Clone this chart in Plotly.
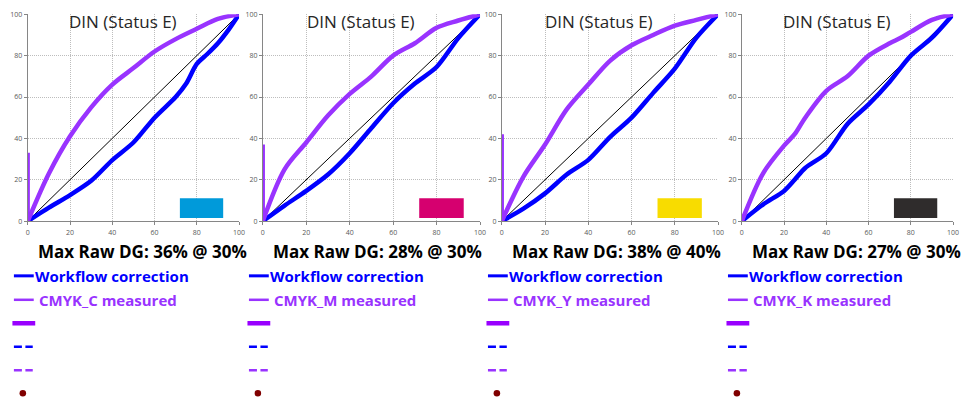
import plotly.graph_objects as go

# ---------------- data ----------------
x_pts = [0, 10, 20, 30, 40, 50, 60, 70, 80, 90, 100]

panels = ["C", "M", "Y", "K"]
patch_colors = ["#009ADA", "#D6006F", "#F8DC00", "#2F2C2C"]
max_dg_labels = ["Max Raw DG: 36% @ 30%", "Max Raw DG: 28% @ 30%",
                 "Max Raw DG: 38% @ 40%", "Max Raw DG: 27% @ 30%"]
measured_names = ["CMYK_C measured", "CMYK_M measured", "CMYK_Y measured", "CMYK_K measured"]

measured_C = [0, 23, 41, 55, 66, 74, 82, 88, 93, 97.8, 100]
measured_M = [0, 25, 38, 51, 61.5, 70, 80, 86, 93.5, 97, 100]
measured_Y = [0, 21.5, 37, 54, 66, 77.5, 85, 90, 94.5, 97.3, 100]
measured_K_x = [0, 10, 20, 25, 30, 40, 50, 60, 70, 75, 80, 90, 100]
measured_K = [0, 23, 36.5, 42, 50, 63, 70, 80, 86, 88.5, 91.5, 97.3, 100]

workflow_C_x = [0, 10, 20, 30, 40, 50, 60, 70, 75, 80, 85, 90, 95, 100]
workflow_C = [0, 6.5, 12.6, 19.5, 29.5, 38, 50, 60, 66.5, 76, 80.8, 86, 92.5, 100]
workflow_M = [0, 7.5, 14.6, 22.5, 32.8, 45, 57, 66.5, 74.5, 88.5, 100]
workflow_Y = [0, 6, 13.4, 22.5, 29.6, 40.6, 50, 62, 73.7, 88.7, 100]
workflow_K_x = [0, 10, 20, 25, 30, 40, 50, 60, 70, 80, 90, 100]
workflow_K = [0, 8, 14.6, 20, 25.7, 32.8, 47, 56.4, 67.4, 80, 88.7, 100]

# vertical marker at x=0 (max DG bar height)
dg_bar_x = 0.4
dg_bar_heights = [33, 37, 42, None]

ref_line = [0, 100]
patch_x = [72, 92.5]
patch_y = [1.5, 11]

tick_vals = [0, 20, 40, 60, 80, 100]
title_text = "DIN (Status E)"

measured_x = [x_pts, x_pts, x_pts, measured_K_x]
measured_y = [measured_C, measured_M, measured_Y, measured_K]
workflow_x = [workflow_C_x, x_pts, x_pts, workflow_K_x]
workflow_y = [workflow_C, workflow_M, workflow_Y, workflow_K]

# ---------------- layout geometry ----------------
W, H = 970, 405
x0_px = [26, 263, 504, 746]
x1_px = [239, 482, 722, 959]
y_top_px, y_bot_px = 9.5, 221

BLUE = "#0000FF"
PURPLE = "#9933FF"
FONT = "Open Sans"

fig = go.Figure()
annotations = []
shapes = []

for i in range(4):
    ax = "" if i == 0 else str(i + 1)
    xa, ya = "x" + ax, "y" + ax
    # reference diagonal
    fig.add_trace(go.Scatter(x=ref_line, y=ref_line, mode="lines",
                             line=dict(color="black", width=1),
                             xaxis=xa, yaxis=ya, showlegend=False, hoverinfo="skip"))
    # colour patch
    fig.add_trace(go.Scatter(x=[patch_x[0], patch_x[1], patch_x[1], patch_x[0], patch_x[0]],
                             y=[patch_y[0], patch_y[0], patch_y[1], patch_y[1], patch_y[0]],
                             mode="lines", fill="toself", fillcolor=patch_colors[i],
                             line=dict(width=0, color=patch_colors[i]),
                             xaxis=xa, yaxis=ya, showlegend=False, hoverinfo="skip"))
    # dg bar at x=0
    if dg_bar_heights[i] is not None:
        fig.add_trace(go.Scatter(x=[dg_bar_x, dg_bar_x], y=[0, dg_bar_heights[i]], mode="lines",
                                 line=dict(color=PURPLE, width=2.5),
                                 xaxis=xa, yaxis=ya, showlegend=False, hoverinfo="skip"))
    # workflow correction
    fig.add_trace(go.Scatter(x=workflow_x[i], y=workflow_y[i], mode="lines",
                             line=dict(color=BLUE, width=4.5, shape="spline", smoothing=0.8),
                             xaxis=xa, yaxis=ya, showlegend=False, name="Workflow correction"))
    # measured
    fig.add_trace(go.Scatter(x=measured_x[i], y=measured_y[i], mode="lines",
                             line=dict(color=PURPLE, width=4.5, shape="spline", smoothing=0.9),
                             xaxis=xa, yaxis=ya, showlegend=False, name=measured_names[i]))

    dom_x = [x0_px[i] / W, x1_px[i] / W]
    dom_y = [1 - y_bot_px / H, 1 - y_top_px / H]
    common = dict(range=[0, 100], tickvals=tick_vals, showgrid=True,
                  gridcolor="#BDBDBD", griddash="1px,1px", gridwidth=1,
                  showline=True, linecolor="#868686", linewidth=1,
                  ticks="outside", ticklen=3, tickcolor="#868686",
                  tickfont=dict(family=FONT, size=7, color="#595959"),
                  zeroline=False, fixedrange=True)
    fig.layout["xaxis" + ax] = dict(domain=dom_x, anchor=ya, ticklabelstandoff=2, **common)
    fig.layout["yaxis" + ax] = dict(domain=dom_y, anchor=xa, **common)

    # title inside plot
    annotations.append(dict(text=title_text, x=45, y=96.3, xref=xa, yref=ya,
                            xanchor="center", yanchor="middle", showarrow=False,
                            font=dict(family=FONT, size=17, color="#262626")))
    # max DG label
    px = x0_px[i]
    annotations.append(dict(text="<b>" + max_dg_labels[i] + "</b>", x=(px + 8) / W, y=1 - 252 / H,
                            xref="paper", yref="paper", xanchor="left", yanchor="middle",
                            showarrow=False, font=dict(family=FONT, size=17, color="black")))
    # legend entries
    lx0, lx1 = px - 14, px + 6
    annotations.append(dict(text="<b>Workflow correction</b>", x=(px + 5) / W, y=1 - 277 / H,
                            xref="paper", yref="paper", xanchor="left", yanchor="middle",
                            showarrow=False, font=dict(family=FONT, size=15, color=BLUE)))
    annotations.append(dict(text="<b>" + measured_names[i] + "</b>", x=(px + 9) / W, y=1 - 301.5 / H,
                            xref="paper", yref="paper", xanchor="left", yanchor="middle",
                            showarrow=False, font=dict(family=FONT, size=15, color=PURPLE)))
    shapes.append(dict(type="line", xref="paper", yref="paper", x0=lx0 / W, x1=lx1 / W,
                       y0=1 - 277 / H, y1=1 - 277 / H, line=dict(color=BLUE, width=3)))
    shapes.append(dict(type="line", xref="paper", yref="paper", x0=lx0 / W, x1=lx1 / W,
                       y0=1 - 301.5 / H, y1=1 - 301.5 / H, line=dict(color=PURPLE, width=2.5)))
    shapes.append(dict(type="line", xref="paper", yref="paper", x0=(lx0 - 1.5) / W, x1=(lx1 + 1.5) / W,
                       y0=1 - 325.5 / H, y1=1 - 325.5 / H, line=dict(color="#9900FF", width=4.5)))
    shapes.append(dict(type="line", xref="paper", yref="paper", x0=lx0 / W, x1=(lx1 - 1) / W,
                       y0=1 - 349.5 / H, y1=1 - 349.5 / H, line=dict(color=BLUE, width=2.5, dash="8px,3.5px")))
    shapes.append(dict(type="line", xref="paper", yref="paper", x0=lx0 / W, x1=(lx1 - 1) / W,
                       y0=1 - 373.5 / H, y1=1 - 373.5 / H, line=dict(color=PURPLE, width=2.5, dash="8px,3.5px")))
    cx = px - 5
    shapes.append(dict(type="circle", xref="paper", yref="paper", x0=(cx - 3.3) / W, x1=(cx + 3.3) / W,
                       y0=1 - 400.3 / H, y1=1 - 393.7 / H, fillcolor="#800000", line=dict(width=0)))

fig.update_layout(width=W, height=H, margin=dict(l=0, r=0, t=0, b=0),
                  paper_bgcolor="white", plot_bgcolor="white", showlegend=False,
                  annotations=annotations, shapes=shapes)

fig.write_html("out.html", config={"displayModeBar": False},
               post_script="document.body.style.margin='0';document.body.style.overflow='hidden';")
